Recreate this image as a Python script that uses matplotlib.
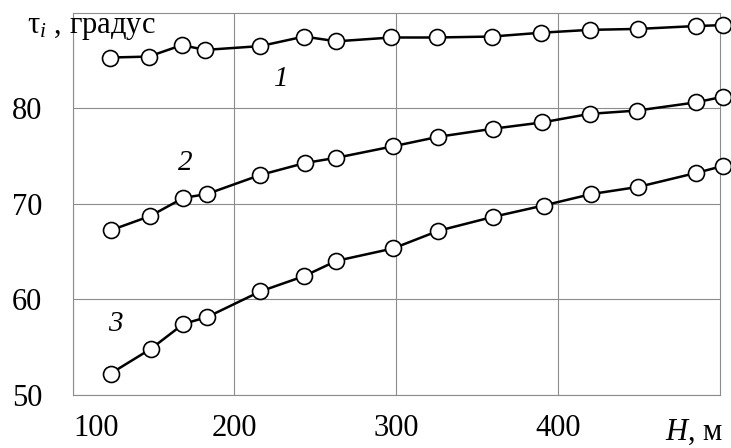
import matplotlib
matplotlib.use("Agg")
import matplotlib.pyplot as plt
import matplotlib.transforms as mtransforms

# heights, m (one list per curve)
H1 = [123, 147, 167.5, 182, 216, 243, 263, 297, 325, 359, 389.5, 419.5, 449.5, 485, 502]
H2 = [123.5, 148, 168.5, 183, 216, 243.5, 263, 298, 326, 360, 390, 419.5, 449, 485, 502]
H3 = [123.5, 148.5, 168.5, 183, 216, 243, 263, 298, 326, 359.5, 391, 420.5, 449.5, 485, 502]

tau1 = [85.3, 85.4, 86.6, 86.1, 86.5, 87.5, 87.0, 87.4, 87.4, 87.5, 87.9, 88.2, 88.3, 88.6, 88.7]
tau2 = [67.2, 68.7, 70.6, 71.0, 73.0, 74.25, 74.8, 76.0, 77.0, 77.85, 78.5, 79.4, 79.75, 80.6, 81.2]
tau3 = [52.2, 54.8, 57.4, 58.1, 60.8, 62.4, 64.0, 65.3, 67.15, 68.6, 69.8, 71.0, 71.75, 73.2, 73.95]

curve_labels = ["1", "2", "3"]
label_pos = [(229, 83.1), (169.5, 74.3), (126.5, 57.4)]

xticks = [100, 200, 300, 400]
yticks = [50, 60, 70, 80]

plt.rcParams["font.family"] = ["Liberation Serif", "DejaVu Serif"]
plt.rcParams["mathtext.fontset"] = "custom"
plt.rcParams["mathtext.rm"] = "Liberation Serif"
plt.rcParams["mathtext.it"] = "Liberation Serif:italic"

fig = plt.figure(figsize=(7.31, 4.48), dpi=100)
ax = fig.add_axes([0.0993, 0.1194, 0.8857, 0.8523])

for H, tau in [(H1, tau1), (H2, tau2), (H3, tau3)]:
    ax.plot(H, tau, color="black", linewidth=1.8, marker="o", markersize=11.5,
            markerfacecolor="white", markeredgecolor="black",
            markeredgewidth=1.2, clip_on=False, zorder=3)

for txt, (x, y) in zip(curve_labels, label_pos):
    ax.text(x, y, txt, fontsize=21, fontstyle="italic", ha="center", va="center")

ax.set_xlim(100, 500)
ax.set_ylim(50, 90)
ax.set_xticks(xticks)
ax.set_yticks(yticks)
ax.tick_params(length=0, labelsize=22)
ax.tick_params(axis="x", pad=14)
ax.tick_params(axis="y", pad=22)
ax.grid(True, color="#8c8c8c", linewidth=0.8)
ax.set_axisbelow(True)
for s in ax.spines.values():
    s.set_color("#8c8c8c")
    s.set_linewidth(0.8)

# the "100" label sits shifted to the right in the original
shift = mtransforms.ScaledTranslation(24 / 100, 0, fig.dpi_scale_trans)
first = ax.get_xticklabels()[0]
first.set_transform(first.get_transform() + shift)

fig.text(27 / 731, 1 - 33 / 448, r"$\mathrm{\tau}_{i}$ , градус", fontsize=22,
         ha="left", va="baseline")
fig.text(723 / 731, 1 - 440 / 448, r"$H$, м", fontsize=22,
         ha="right", va="baseline")

fig.savefig("out.png", dpi=100)
